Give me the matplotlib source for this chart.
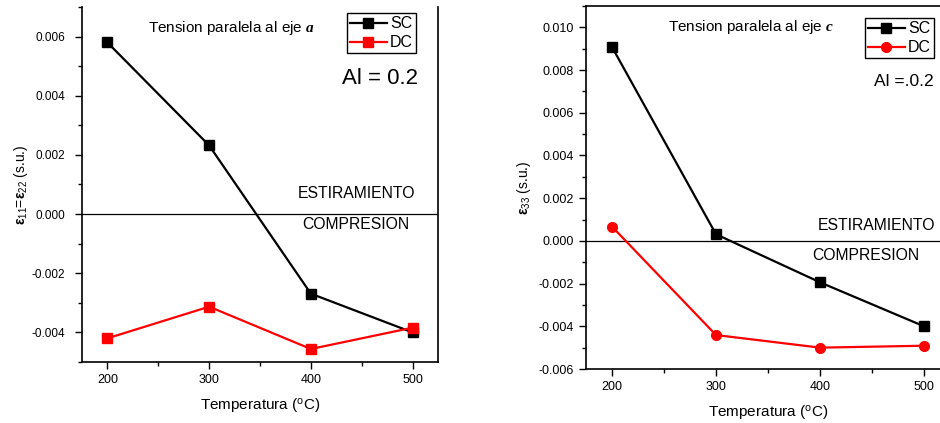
import matplotlib
matplotlib.use('Agg')
import matplotlib.pyplot as plt
from matplotlib.ticker import MultipleLocator

plt.rcParams['font.family'] = ['Liberation Sans', 'DejaVu Sans']
plt.rcParams['mathtext.fontset'] = 'custom'
plt.rcParams['mathtext.rm'] = 'Liberation Sans'
plt.rcParams['mathtext.it'] = 'Liberation Sans:italic'
plt.rcParams['mathtext.bf'] = 'Liberation Sans:bold'
plt.rcParams['mathtext.bfit'] = 'Liberation Serif:italic:bold'

# Temperatures (C)
temps = [200, 300, 400, 500]

# Left panel: tension along axis a
sc_a = [0.0058, 0.00232, -0.00269, -0.0040]
dc_a = [-0.0042, -0.00313, -0.00456, -0.00384]

# Right panel: tension along axis c
sc_c = [0.00908, 0.00031, -0.00194, -0.0040]
dc_c = [0.00067, -0.00441, -0.0050, -0.00491]

fig = plt.figure(figsize=(9.4, 4.23), dpi=100)
W, H = 940, 423

def px_axes(x0, y0, x1, y1):
    return fig.add_axes([x0 / W, 1 - y1 / H, (x1 - x0) / W, (y1 - y0) / H])

ax1 = px_axes(82, 7, 438, 362)
ax2 = px_axes(586, 6, 950, 369)

def style(ax, ytick_size, ypad):
    ax.set_xlim(175, 525)
    ax.xaxis.set_major_locator(MultipleLocator(100))
    ax.xaxis.set_minor_locator(MultipleLocator(50))
    ax.yaxis.set_major_locator(MultipleLocator(0.002))
    ax.yaxis.set_minor_locator(MultipleLocator(0.001))
    ax.tick_params(which='major', direction='out', length=5, width=1, labelsize=9)
    ax.tick_params(which='minor', direction='out', length=3, width=1)
    ax.tick_params(axis='y', labelsize=ytick_size, pad=ypad)
    ax.yaxis.set_major_formatter(matplotlib.ticker.FormatStrFormatter('%.3f'))
    for s in ax.spines.values():
        s.set_linewidth(1.2)
    ax.axhline(0, color='black', lw=0.9, zorder=1)
    ax.set_xlabel(r'Temperatura ($^{\rm o}$C)', fontsize=11, labelpad=8)

legend_kw = dict(loc='upper right', bbox_transform=fig.transFigure, fontsize=11.5,
                 handlelength=2.3, handletextpad=0.2, borderpad=0.2, labelspacing=0.25,
                 borderaxespad=0, fancybox=False, edgecolor='black', framealpha=1)

# ---- left panel ----
style(ax1, 8.5, 7)
ax1.set_ylim(-0.005, 0.007)
ax1.spines['top'].set_visible(False)
ax1.plot(temps, sc_a, color='black', marker='s', ms=6.5, lw=1.6, label='SC')
ax1.plot(temps, dc_a, color='red', marker='s', ms=6.5, lw=1.6, label='DC')
ax1.set_ylabel(r'$\mathbf{ε}_{11}$=$\mathbf{ε}_{22}$ (s.u.)', fontsize=10, labelpad=1)
ax1.text(0.42, 0.94, r'Tension paralela al eje $\mathbfit{a}$', transform=ax1.transAxes,
         ha='center', va='center', fontsize=11)
ax1.text(0.945, 0.80, 'Al = 0.2', transform=ax1.transAxes, ha='right', va='center', fontsize=16)
ax1.text(445, 0.00069, 'ESTIRAMIENTO', ha='center', va='center', fontsize=11.3)
ax1.text(444, -0.00036, 'COMPRESION', ha='center', va='center', fontsize=11.3)
ax1.legend(bbox_to_anchor=(416 / W, 1 - 13 / H), **legend_kw)

# ---- right panel ----
style(ax2, 9, 4)
ax2.set_ylim(-0.006, 0.011)
ax2.plot(temps, sc_c, color='black', marker='s', ms=6.5, lw=1.6, label='SC')
ax2.plot(temps, dc_c, color='red', marker='o', ms=7, lw=1.6, label='DC')
ax2.set_ylabel(r'$\mathbf{ε}_{33}$ (s.u.)', fontsize=10, labelpad=4)
ax2.text(334, 0.0100, r'Tension paralela al eje $\mathbfit{c}$', ha='center', va='center', fontsize=11)
ax2.text(509, 0.00745, 'Al =.0.2', ha='right', va='center', fontsize=12.5)
ax2.text(454, 0.00070, 'ESTIRAMIENTO', ha='center', va='center', fontsize=11.3)
ax2.text(444.5, -0.00070, 'COMPRESION', ha='center', va='center', fontsize=11.3)
ax2.legend(bbox_to_anchor=(934 / W, 1 - 18 / H), **legend_kw)

fig.savefig('out.png', dpi=100)
